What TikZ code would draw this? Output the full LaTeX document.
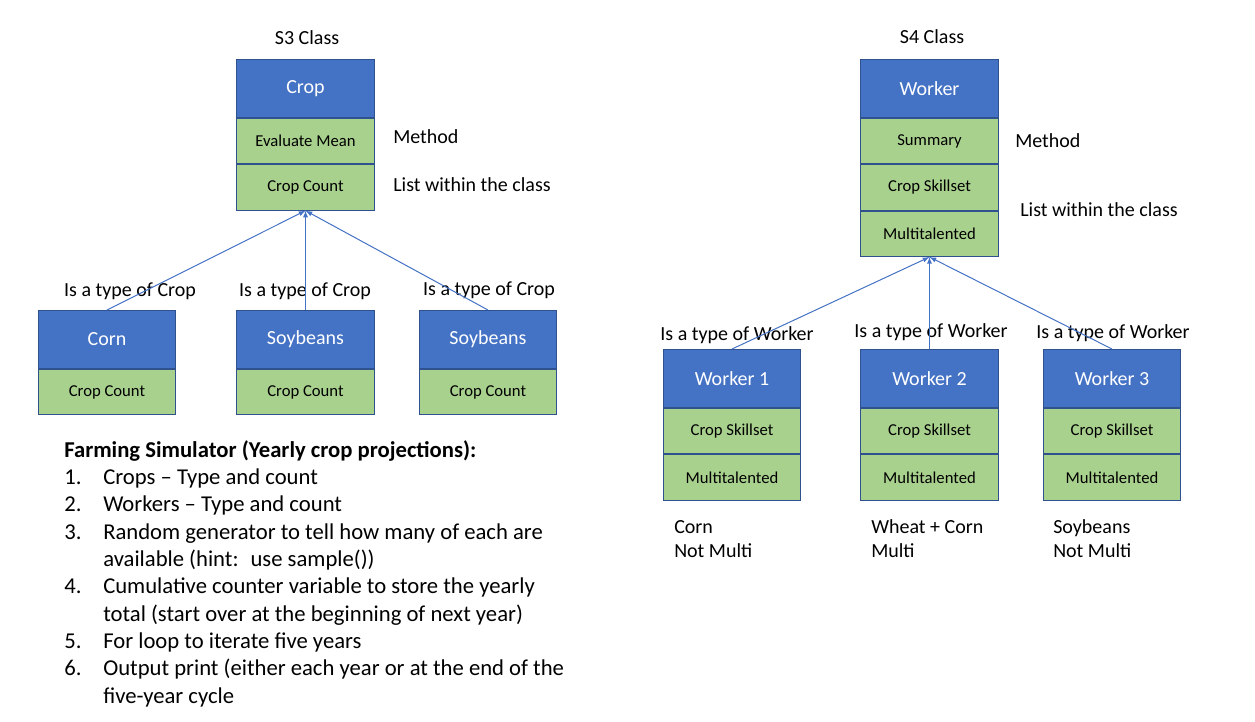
\documentclass[tikz,border=0pt]{standalone}
\usepackage{fontspec}
\setmainfont{Carlito}
\usepackage{tikz}
\usetikzlibrary{positioning,arrows}

\definecolor{hdrblue}{HTML}{4472C4}
\definecolor{fldgreen}{HTML}{A9D18E}
\definecolor{edgeblue}{HTML}{2F528F}

\tikzset{
  hdr/.style={draw=edgeblue, fill=hdrblue, text=white, line width=0.75pt, minimum width=103pt, minimum height=43.5pt, inner sep=0pt, font=\fontsize{15}{18}\selectfont},
  fld/.style={draw=edgeblue, fill=fldgreen, line width=0.75pt, minimum width=103pt, minimum height=34pt, inner sep=0pt, font=\fontsize{12.5}{15}\selectfont},
  lbl/.style={inner sep=0pt, font=\fontsize{15}{18}\selectfont},
  isa/.style={draw=hdrblue, line width=0.75pt, -latex}
}

\begin{document}
\begin{tikzpicture}[x=0.75pt,y=-0.75pt]
\useasboundingbox (0,0) rectangle (1255,721);

% S3 class and its subclasses
\node[lbl] (s3) at (307,38) {S3 Class};
\node[hdr] (crop) at (305.5,88.5) {Crop};
\node[fld, below=0pt of crop] (cropmean) {Evaluate Mean};
\node[fld, below=0pt of cropmean] (cropcnt) {Crop Count};
\node[lbl, anchor=west] (s3meth) at (393,137) {Method};
\node[lbl, anchor=west] (s3list) at (393,185) {List within the class};

\foreach \i/\x/\lx/\ly/\txt in {1/107/130/291/Corn, 2/305.5/305/291/Soybeans, 3/488/489/290/Soybeans}{
  \node[hdr] (c\i) at (\x,339.5) {\txt};
  \node[fld, below=0pt of c\i] (cnt\i) {Crop Count};
  \node[lbl] (cl\i) at (\lx,\ly) {Is a type of Crop};
  \draw[isa] (c\i.north) -- (cropcnt.south);
}

% S4 class and its subclasses
\node[lbl] (s4) at (932,37) {S4 Class};
\node[hdr] (worker) at (929.5,88.5) {Worker};
\node[fld, below=0pt of worker] (wsum) {Summary};
\node[fld, below=0pt of wsum] (wskill) {Crop Skillset};
\node[fld, below=0pt of wskill] (wmulti) {Multitalented};
\node[lbl, anchor=west] (s4meth) at (1015,141) {Method};
\node[lbl, anchor=west] (s4list) at (1020,210) {List within the class};

\foreach \i/\x/\lx/\ly/\nx/\crops/\multi in {1/732/737/335/674/Corn/Not Multi, 2/929.5/931/332/871/Wheat + Corn/Multi, 3/1112/1113/333/1053/Soybeans/Not Multi}{
  \node[hdr] (w\i) at (\x,378.5) {Worker \i};
  \node[fld, below=0pt of w\i] (ws\i) {Crop Skillset};
  \node[fld, below=0pt of ws\i] (wm\i) {Multitalented};
  \node[lbl] (wl\i) at (\lx,\ly) {Is a type of Worker};
  \node[lbl, anchor=west, align=left] (wn\i) at (\nx,539) {\crops\\\multi};
  \draw[isa] (w\i.north) -- (wmulti.south);
}

% task list
\node[anchor=base west, inner sep=0pt, font=\fontsize{17}{20.5}\selectfont] (plan) at (64,457) {%
\begin{tabular}[t]{@{}p{29.25pt}@{}l@{}}
\multicolumn{2}{@{}l@{}}{\textbf{Farming Simulator (Yearly crop projections):}}\\
1. & Crops – Type and count\\
2. & Workers – Type and count\\
3. & Random generator to tell how many of each are\\
   & available (hint:~ use sample())\\
4. & Cumulative counter variable to store the yearly\\
   & total (start over at the beginning of next year)\\
5. & For loop to iterate five years\\
6. & Output print (either each year or at the end of the\\
   & five-year cycle
\end{tabular}};
\end{tikzpicture}
\end{document}
